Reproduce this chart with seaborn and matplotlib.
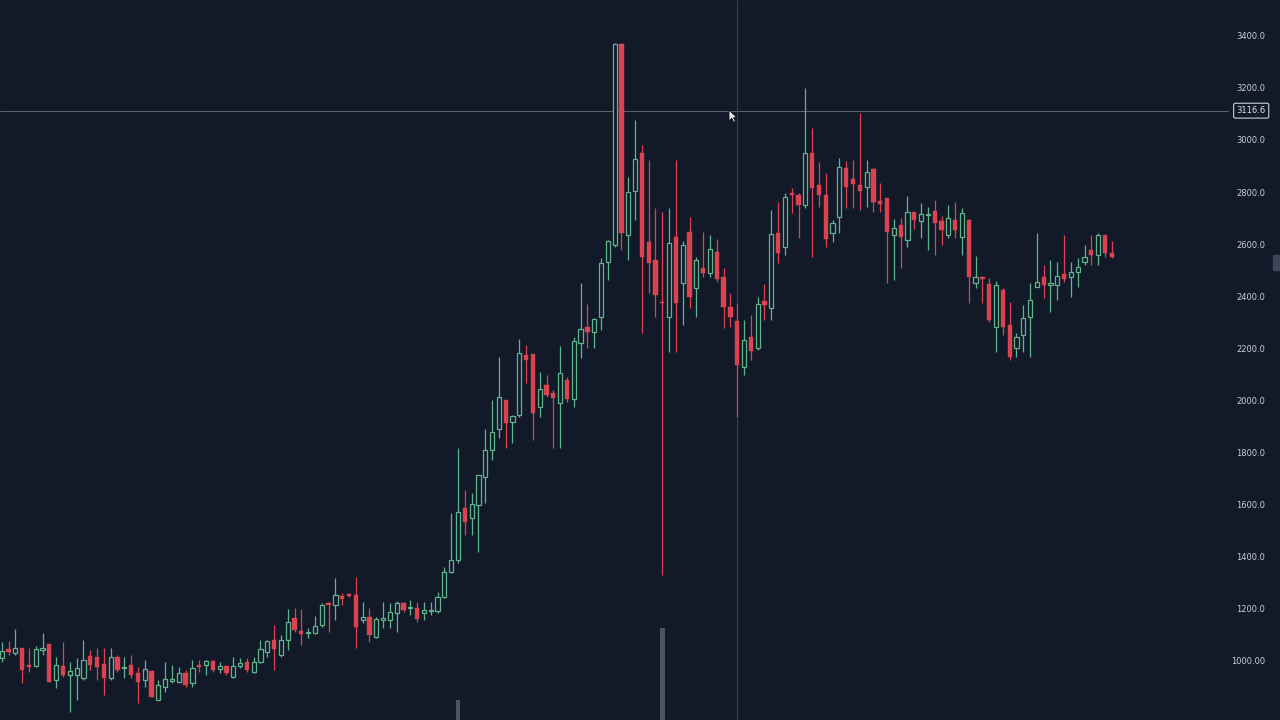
import seaborn as sns
import matplotlib.pyplot as plt
from matplotlib.patches import Rectangle, Polygon

# -------------------------------
# Data
# -------------------------------
opens = [1010, 1045, 1029, 1049, 984, 981, 1043, 1065, 927, 982,
         946, 946, 933, 1019, 1017, 988, 933, 1017, 972, 985,
         953, 927, 963, 850, 901, 924, 920, 953, 914, 985,
         985, 1001, 968, 981, 937, 981, 997, 959, 997, 1036,
         1081, 1023, 1081, 1164, 1117, 1106, 1106, 1138, 1224, 1215,
         1250, 1256, 1254, 1158, 1168, 1091, 1158, 1158, 1183, 1222,
         1203, 1203, 1186, 1193, 1193, 1247, 1344, 1388, 1587, 1549,
         1600, 1709, 1811, 1891, 2004, 1920, 1946, 2177, 2181, 1978,
         2061, 2032, 1991, 2081, 2006, 2224, 2283, 2267, 2322, 2536,
         2600, 3373, 2638, 2809, 2953, 2613, 2542, 2382, 2322, 2630,
         2452, 2651, 2433, 2510, 2491, 2574, 2476, 2363, 2309, 2130,
         2247, 2203, 2386, 2356, 2647, 2594, 2799, 2792, 2754, 2955,
         2831, 2792, 2647, 2706, 2895, 2853, 2831, 2822, 2891, 2771,
         2780, 2638, 2677, 2619, 2728, 2693, 2715, 2732, 2693, 2638,
         2696, 2632, 2696, 2455, 2476, 2450, 2283, 2427, 2292, 2203,
         2254, 2324, 2440, 2476, 2446, 2446, 2488, 2476, 2497, 2536,
         2581, 2561, 2638, 2568]
highs = [1075, 1078, 1122, 1049, 1049, 1058, 1106, 1065, 1017, 1074,
         997, 1010, 1081, 1042, 1049, 1049, 1049, 1023, 1017, 1023,
         978, 1004, 965, 927, 997, 984, 978, 965, 1004, 1004,
         1004, 1004, 998, 985, 1017, 1010, 1010, 1017, 1081, 1081,
         1138, 1100, 1199, 1202, 1199, 1126, 1173, 1222, 1228, 1318,
         1260, 1263, 1324, 1228, 1203, 1170, 1228, 1222, 1232, 1228,
         1234, 1228, 1228, 1228, 1267, 1363, 1568, 1818, 1658, 1645,
         1715, 1891, 2004, 2170, 2004, 1946, 2237, 2215, 2181, 2113,
         2100, 2042, 2212, 2094, 2247, 2455, 2373, 2318, 2549, 2619,
         3376, 3376, 2863, 3081, 2985, 2927, 2741, 2728, 2741, 2927,
         2617, 2709, 2555, 2651, 2638, 2622, 2510, 2414, 2376, 2312,
         2331, 2401, 2450, 2735, 2767, 2801, 2818, 2801, 3203, 3049,
         2921, 2876, 2696, 2933, 2924, 2927, 3109, 2927, 2895, 2837,
         2780, 2699, 2702, 2788, 2728, 2763, 2747, 2773, 2712, 2754,
         2767, 2741, 2700, 2558, 2480, 2472, 2463, 2433, 2382, 2263,
         2369, 2453, 2645, 2523, 2542, 2536, 2638, 2536, 2549, 2600,
         2638, 2645, 2640, 2616]
lows = [997, 1023, 1023, 914, 959, 978, 1023, 920, 895, 940,
        805, 850, 927, 965, 927, 869, 927, 959, 933, 933,
        837, 901, 863, 850, 882, 914, 914, 901, 901, 959,
        946, 959, 953, 946, 933, 972, 959, 953, 991, 1017,
        965, 1017, 1042, 1113, 1061, 1087, 1104, 1132, 1113, 1158,
        1215, 1245, 1049, 1145, 1074, 1087, 1126, 1126, 1113, 1190,
        1177, 1151, 1158, 1177, 1183, 1241, 1337, 1376, 1485, 1485,
        1420, 1607, 1773, 1856, 1818, 1837, 1940, 2068, 1850, 1940,
        2017, 1818, 1818, 1998, 1978, 2164, 2203, 2203, 2273, 2465,
        2594, 2581, 2542, 2696, 2260, 2414, 2324, 1330, 2190, 2190,
        2292, 2357, 2324, 2478, 2478, 2459, 2279, 2286, 1940, 2100,
        2158, 2196, 2312, 2312, 2529, 2562, 2722, 2626, 2741, 2555,
        2747, 2594, 2613, 2645, 2741, 2741, 2735, 2747, 2728, 2728,
        2453, 2465, 2510, 2594, 2660, 2626, 2581, 2562, 2600, 2626,
        2626, 2562, 2376, 2433, 2376, 2305, 2190, 2254, 2158, 2171,
        2190, 2171, 2440, 2395, 2344, 2389, 2459, 2399, 2440, 2523,
        2523, 2523, 2555, 2549]
closes = [1040, 1036, 1051, 965, 978, 1045, 1049, 920, 985, 946,
          963, 972, 1004, 985, 978, 933, 1014, 965, 978, 946,
          920, 968, 863, 908, 931, 930, 953, 908, 972, 978,
          1001, 965, 981, 953, 981, 991, 965, 997, 1045, 1078,
          1045, 1081, 1151, 1119, 1104, 1113, 1135, 1215, 1215, 1254,
          1237, 1250, 1132, 1170, 1100, 1160, 1164, 1190, 1224, 1196,
          1209, 1160, 1196, 1198, 1245, 1344, 1388, 1574, 1536, 1604,
          1715, 1811, 1882, 2017, 1917, 1942, 2183, 2158, 1953, 2045,
          2023, 2010, 2109, 2006, 2232, 2276, 2267, 2314, 2530, 2617,
          3373, 2645, 2805, 2929, 2555, 2530, 2408, 2376, 2609, 2376,
          2600, 2401, 2542, 2491, 2583, 2468, 2363, 2322, 2139, 2235,
          2194, 2373, 2369, 2642, 2570, 2786, 2792, 2754, 2953, 2818,
          2792, 2622, 2686, 2899, 2822, 2835, 2809, 2882, 2767, 2758,
          2651, 2664, 2632, 2728, 2696, 2719, 2719, 2683, 2658, 2703,
          2658, 2722, 2478, 2476, 2468, 2312, 2446, 2283, 2171, 2248,
          2318, 2389, 2459, 2446, 2453, 2481, 2468, 2497, 2514, 2555,
          2561, 2638, 2568, 2552]

vol_idx = [67, 97]
vol_vals = [38, 67]

price_ticks = [3400, 3200, 3000, 2800, 2600, 2400, 2200, 2000, 1800, 1600, 1400, 1200, 1000]
price_labels = ["3400.0", "3200.0", "3000.0", "2800.0", "2600.0", "2400.0", "2200.0",
                "2000.0", "1800.0", "1600.0", "1400.0", "1200.0", "1000.00"]
cross_price = 3116.6
cross_idx = 107.9

# -------------------------------
# Style
# -------------------------------
bg = "#121a2a"
up = "#5fb48c"
down = "#dc4250"
sns.set_theme(style="dark", rc={"axes.facecolor": bg, "figure.facecolor": bg})

fig = plt.figure(figsize=(12.8, 7.2), dpi=100)
ax = fig.add_axes([0, 0, 1, 1])

# volume on its own scale (baseline sits below the visible area)
axv = ax.twinx()
axv.bar(vol_idx, vol_vals, width=0.7, color="#4b5261", edgecolor="none",
        linewidth=0, zorder=1)
axv.set_ylim(30, 320)
axv.set_axis_off()
ax.set_zorder(axv.get_zorder() + 1)
ax.patch.set_visible(False)
axv.patch.set_visible(True)
axv.patch.set_facecolor(bg)

# -------------------------------
# Candles
# -------------------------------
w = 0.62
for i in range(len(opens)):
    o, h, l, c = opens[i], highs[i], lows[i], closes[i]
    lo_b, hi_b = min(o, c), max(o, c)
    if hi_b - lo_b < 4:
        hi_b = lo_b + 4
    if c >= o:
        ax.vlines(i, hi_b, h, color=up, lw=0.9, zorder=3)
        ax.vlines(i, l, lo_b, color=up, lw=0.9, zorder=3)
        ax.bar(i, hi_b - lo_b, bottom=lo_b, width=w, facecolor=bg,
               edgecolor=up, linewidth=0.9, zorder=4)
    else:
        ax.vlines(i, l, h, color=down, lw=0.9, zorder=3)
        ax.bar(i, hi_b - lo_b, bottom=lo_b, width=w, facecolor=down,
               edgecolor=down, linewidth=0.3, zorder=4)

ax.set_xlim(-0.25, 187.7)
ax.set_ylim(773.1, 3542.3)
ax.set_axis_off()

# -------------------------------
# Price scale labels
# -------------------------------
ytr = ax.get_yaxis_transform()
for t, lab in zip(price_ticks, price_labels):
    ax.text(0.9885, t, lab, transform=ytr, ha="right", va="center",
            fontsize=6, color="#c9ced8")

# crosshair
ax.axhline(cross_price, xmin=0, xmax=0.959, color="#5d6677", lw=0.7, zorder=2)
ax.axvline(cross_idx, color="#3a4354", lw=0.7, zorder=2)
ax.text(0.9775, cross_price, "3116.6", transform=ytr, ha="center", va="center",
        fontsize=6, color="#dfe3ea",
        bbox=dict(boxstyle="round,pad=0.35,rounding_size=0.2", fc=bg, ec="#c9ced8", lw=0.8))

# mouse pointer next to the crosshair
tip_x, tip_y = 729, 110
arrow = [(0, 0), (0, 11), (2.8, 8.3), (4.6, 12.3), (6.4, 11.5), (4.6, 7.6), (8, 7.6)]
fig.patches.append(Polygon([((tip_x + dx) / 1280, 1 - (tip_y + dy) / 720) for dx, dy in arrow],
                           closed=True, transform=fig.transFigure,
                           facecolor="#e6e8ec", edgecolor="#0a0d14", lw=0.6, zorder=10))

# scrollbar nub on the right edge
fig.patches.append(Rectangle((1273 / 1280, 1 - 270 / 720), 7 / 1280, 15 / 720,
                             transform=fig.transFigure, color="#3c4658"))

plt.savefig("out.png", dpi=100, facecolor=bg)
